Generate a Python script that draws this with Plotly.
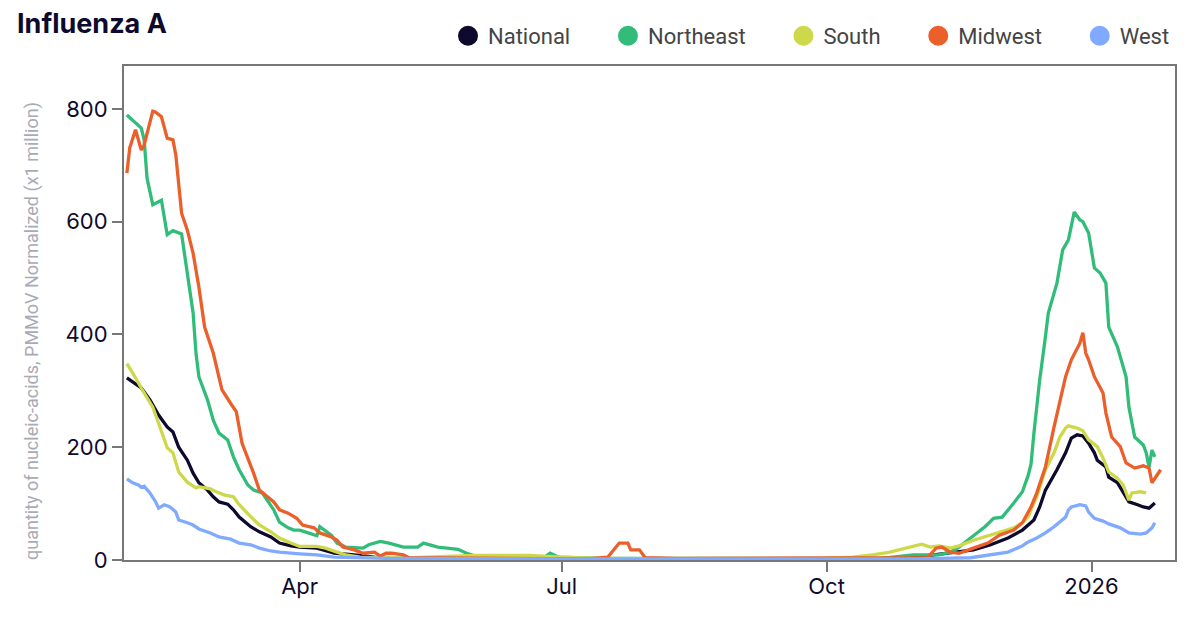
import plotly.graph_objects as go

# ---------------- data ----------------
national_dates = ["2025-01-31","2025-02-02","2025-02-05","2025-02-08","2025-02-11","2025-02-14","2025-02-16","2025-02-18","2025-02-21","2025-02-23","2025-02-25","2025-02-28","2025-03-02","2025-03-04","2025-03-07","2025-03-09","2025-03-11","2025-03-15","2025-03-18","2025-03-22","2025-03-25","2025-03-29","2025-04-01","2025-04-07","2025-04-13","2025-04-20","2025-04-27","2025-05-10","2025-06-01","2025-07-01","2025-08-01","2025-09-01","2025-10-01","2025-10-20","2025-11-01","2025-11-09","2025-11-21","2025-11-27","2025-12-03","2025-12-08","2025-12-12","2025-12-14","2025-12-16","2025-12-20","2025-12-23","2025-12-25","2025-12-27","2025-12-29","2025-12-31","2026-01-02","2026-01-03","2026-01-06","2026-01-07","2026-01-10","2026-01-12","2026-01-14","2026-01-17","2026-01-19","2026-01-21","2026-01-23"]
national_values = [323,316,305,284,257,236,227,200,177,154,137,124,112,103,99,89,76,59,50,41,30,25,23,21,12,9,5,3,2,2,2,2,2,3,5,10,18,27,39,53,71,94,124,160,190,216,222,220,207,190,177,165,147,137,121,103,98,94,92,101]

northeast_dates = ["2025-01-31","2025-02-02","2025-02-05","2025-02-06","2025-02-07","2025-02-09","2025-02-12","2025-02-14","2025-02-16","2025-02-19","2025-02-21","2025-02-23","2025-02-24","2025-02-25","2025-02-28","2025-03-02","2025-03-04","2025-03-07","2025-03-09","2025-03-11","2025-03-14","2025-03-16","2025-03-19","2025-03-23","2025-03-25","2025-03-28","2025-03-30","2025-04-01","2025-04-04","2025-04-07","2025-04-08","2025-04-12","2025-04-14","2025-04-17","2025-04-23","2025-04-25","2025-04-29","2025-05-02","2025-05-07","2025-05-12","2025-05-14","2025-05-19","2025-05-26","2025-05-29","2025-06-01","2025-06-13","2025-06-25","2025-06-27","2025-06-30","2025-07-15","2025-08-01","2025-08-20","2025-09-10","2025-10-01","2025-10-20","2025-10-31","2025-11-09","2025-11-13","2025-11-16","2025-11-20","2025-11-25","2025-11-28","2025-12-01","2025-12-05","2025-12-08","2025-12-10","2025-12-11","2025-12-12","2025-12-14","2025-12-16","2025-12-17","2025-12-20","2025-12-22","2025-12-24","2025-12-26","2025-12-28","2025-12-29","2025-12-31","2026-01-02","2026-01-04","2026-01-06","2026-01-07","2026-01-10","2026-01-13","2026-01-14","2026-01-16","2026-01-19","2026-01-20","2026-01-21","2026-01-22","2026-01-23"]
northeast_values = [789,780,766,745,677,630,638,577,584,578,509,438,367,325,284,248,225,213,183,160,133,124,119,89,67,57,53,53,48,43,59,44,30,23,21,27,33,30,23,23,30,23,19,12,7,6,5,12,5,3,3,4,3,3,3,9,9,14,23,39,59,74,76,101,121,150,170,225,319,396,438,491,550,568,617,603,600,580,518,509,491,413,378,325,271,218,204,190,165,195,183]

south_dates = ["2025-01-31","2025-02-02","2025-02-05","2025-02-07","2025-02-09","2025-02-11","2025-02-13","2025-02-14","2025-02-16","2025-02-18","2025-02-21","2025-02-24","2025-02-25","2025-03-01","2025-03-03","2025-03-06","2025-03-09","2025-03-11","2025-03-15","2025-03-18","2025-03-22","2025-03-25","2025-03-29","2025-04-01","2025-04-07","2025-04-10","2025-04-14","2025-04-17","2025-04-22","2025-05-10","2025-06-01","2025-06-20","2025-07-01","2025-07-15","2025-08-10","2025-09-10","2025-10-01","2025-10-10","2025-10-17","2025-10-23","2025-10-29","2025-11-03","2025-11-06","2025-11-09","2025-11-13","2025-11-16","2025-11-21","2025-11-26","2025-11-30","2025-12-05","2025-12-08","2025-12-10","2025-12-11","2025-12-13","2025-12-16","2025-12-19","2025-12-21","2025-12-23","2025-12-24","2025-12-27","2025-12-29","2025-12-31","2026-01-03","2026-01-05","2026-01-07","2026-01-10","2026-01-12","2026-01-14","2026-01-15","2026-01-18","2026-01-20"]
south_values = [348,332,305,289,271,243,213,199,190,156,138,128,130,126,121,115,112,98,77,62,50,39,30,24,24,21,14,9,5,4,8,8,5,3,2,2,3,5,9,14,21,28,23,25,21,25,35,43,48,57,66,76,89,112,160,190,218,234,238,234,229,213,201,181,156,145,133,106,119,121,119]

midwest_dates = ["2025-01-31","2025-02-01","2025-02-03","2025-02-05","2025-02-06","2025-02-08","2025-02-09","2025-02-10","2025-02-12","2025-02-14","2025-02-16","2025-02-17","2025-02-19","2025-02-21","2025-02-23","2025-02-25","2025-02-27","2025-03-02","2025-03-05","2025-03-08","2025-03-10","2025-03-12","2025-03-14","2025-03-16","2025-03-18","2025-03-21","2025-03-23","2025-03-25","2025-03-28","2025-03-31","2025-04-02","2025-04-06","2025-04-08","2025-04-12","2025-04-14","2025-04-16","2025-04-20","2025-04-23","2025-04-27","2025-04-29","2025-05-01","2025-05-03","2025-05-07","2025-05-09","2025-06-01","2025-06-20","2025-07-10","2025-07-17","2025-07-21","2025-07-24","2025-07-25","2025-07-28","2025-07-30","2025-08-10","2025-09-01","2025-09-20","2025-10-10","2025-10-25","2025-11-05","2025-11-08","2025-11-10","2025-11-13","2025-11-16","2025-11-21","2025-11-26","2025-11-30","2025-12-05","2025-12-08","2025-12-11","2025-12-13","2025-12-16","2025-12-19","2025-12-21","2025-12-23","2025-12-25","2025-12-28","2025-12-29","2025-12-30","2025-12-31","2026-01-02","2026-01-05","2026-01-06","2026-01-08","2026-01-11","2026-01-13","2026-01-16","2026-01-19","2026-01-21","2026-01-22","2026-01-24","2026-01-25"]
midwest_values = [686,731,763,727,736,775,796,794,786,748,745,718,615,585,544,484,413,367,302,278,263,207,181,154,124,112,103,89,83,74,62,57,48,41,35,23,18,12,14,7,12,12,9,4,3,2,2,5,30,30,18,18,4,3,3,4,3,3,4,21,23,14,12,21,30,44,53,66,94,119,165,236,284,325,355,385,403,367,355,325,296,261,218,201,172,163,167,163,137,154,160]

west_dates = ["2025-01-31","2025-02-02","2025-02-04","2025-02-05","2025-02-06","2025-02-08","2025-02-10","2025-02-11","2025-02-13","2025-02-15","2025-02-17","2025-02-18","2025-02-21","2025-02-23","2025-02-25","2025-03-01","2025-03-04","2025-03-08","2025-03-11","2025-03-15","2025-03-18","2025-03-22","2025-03-25","2025-03-29","2025-04-01","2025-04-07","2025-04-13","2025-05-01","2025-06-01","2025-07-01","2025-08-01","2025-09-01","2025-10-01","2025-11-01","2025-11-20","2025-11-27","2025-12-03","2025-12-08","2025-12-10","2025-12-13","2025-12-16","2025-12-19","2025-12-21","2025-12-23","2025-12-24","2025-12-25","2025-12-28","2025-12-30","2025-12-31","2026-01-02","2026-01-05","2026-01-07","2026-01-11","2026-01-14","2026-01-18","2026-01-20","2026-01-22","2026-01-23"]
west_values = [144,137,133,129,131,119,103,92,98,94,85,71,66,62,55,48,41,37,30,27,21,16,14,12,11,9,5,3,2,2,2,2,2,2,4,9,14,25,32,39,48,59,67,76,89,94,98,96,85,74,69,64,57,48,46,48,57,66]

series_names = ["National", "Northeast", "South", "Midwest", "West"]
series_colors = ["#0d0a2e", "#31bd79", "#cdd84b", "#eb5f2b", "#80aaff"]

x_tick_vals = ["2025-04-01", "2025-07-01", "2025-10-01", "2026-01-01"]
x_tick_text = ["Apr", "Jul", "Oct", "2026"]
y_tick_vals = [0, 200, 400, 600, 800]

title_text = "Influenza A"
y_title_text = "quantity of nucleic-acids, PMMoV Normalized (x1 million)"

series_data = [
    (national_dates, national_values),
    (northeast_dates, northeast_values),
    (south_dates, south_values),
    (midwest_dates, midwest_values),
    (west_dates, west_values),
]

# ---------------- figure ----------------
fig = go.Figure()
for name, color, (d, v) in zip(series_names, series_colors, series_data):
    fig.add_trace(go.Scatter(
        x=d, y=v, mode="lines", name=name, showlegend=False,
        line=dict(color=color, width=3.3), hoverinfo="skip",
    ))
# legend entries as circles (extra gap after every entry but the last)
n_series = len(series_names)
for i, (name, color) in enumerate(zip(series_names, series_colors)):
    label = name + ("&nbsp;" * 6 if i < n_series - 1 else "")
    fig.add_trace(go.Scatter(
        x=[None], y=[None], mode="markers", name=label,
        marker=dict(color=color, size=16, symbol="circle",
                    line=dict(color=color, width=4)),
    ))

axis_color = "#777777"
tick_font = dict(family="Inter, sans-serif", size=22, color="#0e0b2d")

fig.update_layout(
    width=1184, height=612,
    margin=dict(l=116, r=17, t=58, b=60, autoexpand=False),
    paper_bgcolor="white", plot_bgcolor="white",
    title=dict(text="<b>" + title_text + "</b>", x=9 / 1184, xanchor="left",
               y=1 - 16 / 612, yanchor="middle", xref="container", yref="container",
               font=dict(family="Inter, sans-serif", size=27, color="#0d0a2e")),
    legend=dict(orientation="h", x=1, xanchor="right", xref="paper",
                y=1 - 28 / 612, yref="container", yanchor="middle",
                font=dict(family="Roboto, sans-serif", size=22, color="#444444"),
                itemsizing="trace", bgcolor="rgba(0,0,0,0)"),
    showlegend=True,
    annotations=[dict(
        text=y_title_text, textangle=-90, showarrow=False,
        xref="paper", yref="paper", x=0, y=0.5, xanchor="center", yanchor="middle",
        xshift=-92, yshift=-18,
        font=dict(family="Roboto, sans-serif", size=18, color="#a8abb5"),
    )],
)
fig.update_xaxes(
    type="date", range=["2025-01-30", "2026-01-30"],
    tickvals=x_tick_vals, ticktext=x_tick_text,
    showgrid=False, zeroline=False,
    showline=True, mirror=True, linecolor=axis_color, linewidth=2,
    ticks="outside", ticklen=10, tickwidth=2, tickcolor=axis_color,
    tickfont=tick_font, ticklabelstandoff=-4,
)
fig.update_yaxes(
    range=[0, 876], tickvals=y_tick_vals,
    showgrid=False, zeroline=False,
    showline=True, mirror=True, linecolor=axis_color, linewidth=2,
    ticks="outside", ticklen=10, tickwidth=2, tickcolor=axis_color,
    tickfont=tick_font,
)

fig.write_html("out.html")
